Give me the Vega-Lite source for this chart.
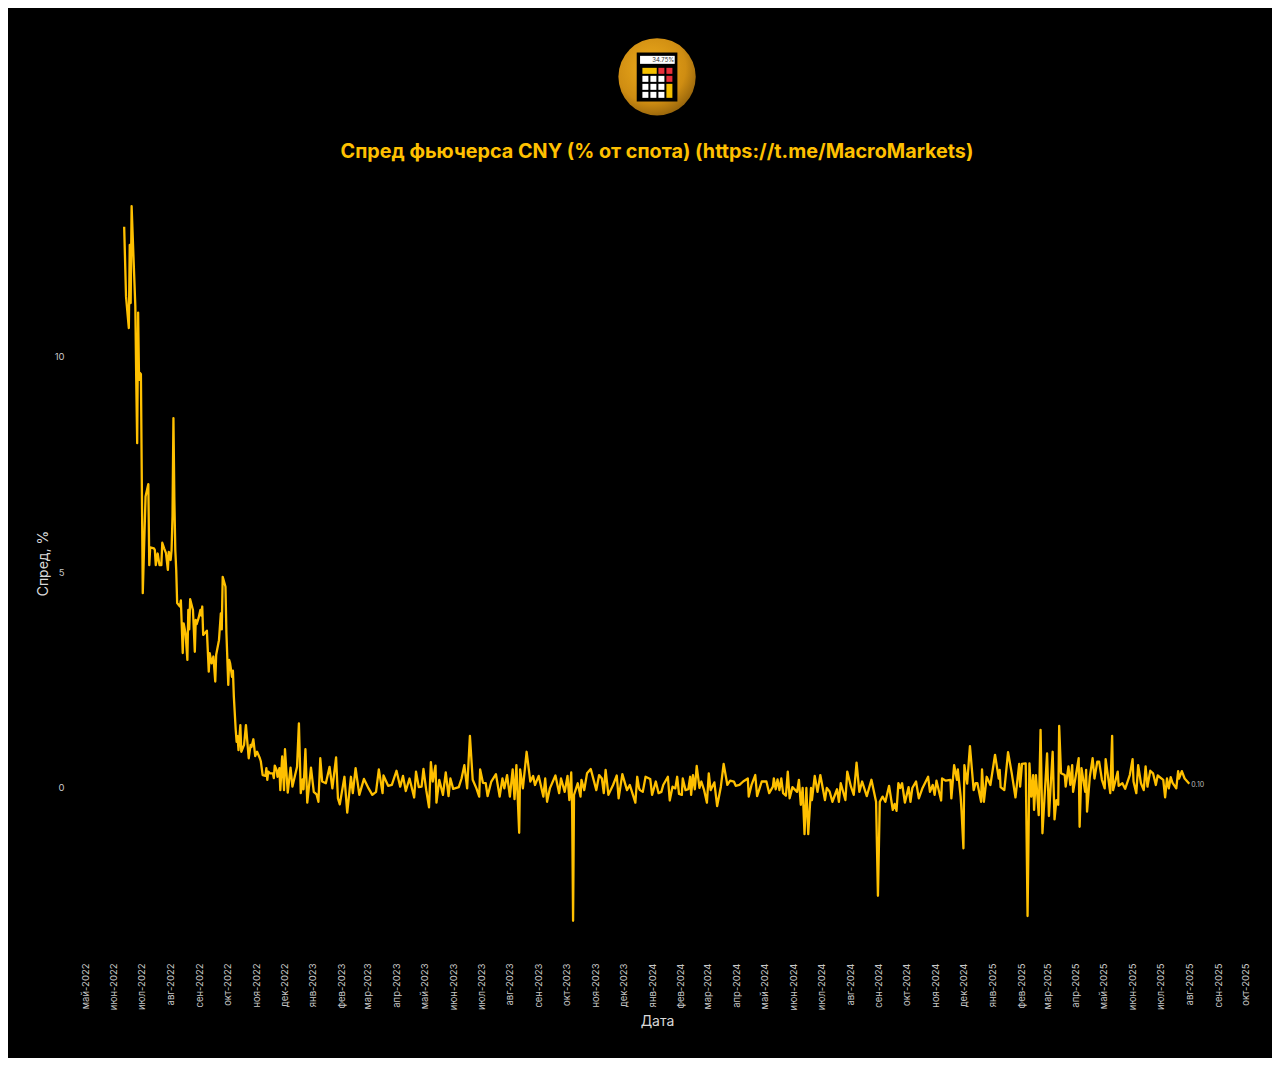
{
"$schema":"https://vega.github.io/schema/vega-lite/v6.json",
"description":"Спред фьючерса CNY",
"width":1264,"height":1050,"padding":8,"autosize":{"type":"none"},
"background":"#ffffff",
"view":{"fill":"#000000","stroke":null},
"title":{"text":"Спред фьючерса CNY (% от спота) (https://t.me/MacroMarkets)","anchor":"middle","frame":"group","offset":-164,"baseline":"middle","dx":17,"font":"Inter","fontSize":19.75,"fontWeight":700,"color":"#FFC000"},
"datasets":{"series":[
{"date":"2022-06-12","spread":13.02},{"date":"2022-06-14","spread":11.4},{"date":"2022-06-17","spread":10.67},{"date":"2022-06-18","spread":12.6},{"date":"2022-06-19","spread":11.25},{"date":"2022-06-20","spread":13.5},{"date":"2022-06-22","spread":12.33},{"date":"2022-06-24","spread":11.17},{"date":"2022-06-25","spread":9.43},{"date":"2022-06-26","spread":8.0},{"date":"2022-06-27","spread":11.03},{"date":"2022-06-28","spread":9.47},{"date":"2022-06-29","spread":9.63},{"date":"2022-06-30","spread":9.6},
{"date":"2022-07-02","spread":4.52},{"date":"2022-07-05","spread":6.76},{"date":"2022-07-08","spread":7.05},{"date":"2022-07-09","spread":5.17},{"date":"2022-07-10","spread":5.58},{"date":"2022-07-14","spread":5.56},{"date":"2022-07-15","spread":5.52},{"date":"2022-07-16","spread":5.17},{"date":"2022-07-18","spread":5.44},{"date":"2022-07-20","spread":5.17},{"date":"2022-07-22","spread":5.17},{"date":"2022-07-23","spread":5.69},{"date":"2022-07-25","spread":5.56},{"date":"2022-07-27","spread":5.45},{"date":"2022-07-29","spread":5.06},{"date":"2022-07-30","spread":5.48},
{"date":"2022-08-01","spread":5.29},{"date":"2022-08-02","spread":5.52},{"date":"2022-08-03","spread":6.3},{"date":"2022-08-04","spread":8.58},{"date":"2022-08-05","spread":6.68},{"date":"2022-08-06","spread":5.52},{"date":"2022-08-07","spread":5.06},{"date":"2022-08-08","spread":4.29},{"date":"2022-08-11","spread":4.21},{"date":"2022-08-12","spread":4.35},{"date":"2022-08-14","spread":3.13},{"date":"2022-08-15","spread":3.82},{"date":"2022-08-17","spread":3.59},{"date":"2022-08-19","spread":2.97},{"date":"2022-08-20","spread":4.13},{"date":"2022-08-21","spread":3.68},{"date":"2022-08-22","spread":4.38},{"date":"2022-08-24","spread":4.21},{"date":"2022-08-25","spread":4.13},{"date":"2022-08-27","spread":3.16},{"date":"2022-08-28","spread":3.9},{"date":"2022-08-29","spread":3.8},{"date":"2022-08-31","spread":3.94},
{"date":"2022-09-02","spread":4.13},{"date":"2022-09-03","spread":4.0},{"date":"2022-09-04","spread":4.21},{"date":"2022-09-05","spread":3.55},{"date":"2022-09-09","spread":3.65},{"date":"2022-09-11","spread":2.7},{"date":"2022-09-12","spread":3.13},{"date":"2022-09-14","spread":2.89},{"date":"2022-09-16","spread":3.05},{"date":"2022-09-18","spread":2.47},{"date":"2022-09-19","spread":3.09},{"date":"2022-09-22","spread":3.43},{"date":"2022-09-24","spread":4.05},{"date":"2022-09-25","spread":3.68},{"date":"2022-09-26","spread":4.9},{"date":"2022-09-29","spread":4.67},{"date":"2022-09-30","spread":3.6},
{"date":"2022-10-02","spread":2.39},{"date":"2022-10-03","spread":2.97},{"date":"2022-10-04","spread":2.89},{"date":"2022-10-06","spread":2.58},{"date":"2022-10-07","spread":2.72},{"date":"2022-10-08","spread":2.12},{"date":"2022-10-10","spread":1.35},{"date":"2022-10-11","spread":1.07},{"date":"2022-10-12","spread":1.2},{"date":"2022-10-13","spread":0.88},{"date":"2022-10-15","spread":1.46},{"date":"2022-10-16","spread":0.84},{"date":"2022-10-19","spread":1.0},{"date":"2022-10-21","spread":1.46},{"date":"2022-10-24","spread":0.69},{"date":"2022-10-26","spread":1.0},{"date":"2022-10-27","spread":0.95},{"date":"2022-10-29","spread":1.13},{"date":"2022-10-31","spread":0.74},
{"date":"2022-11-02","spread":0.84},{"date":"2022-11-05","spread":0.69},{"date":"2022-11-06","spread":0.62},{"date":"2022-11-08","spread":0.3},{"date":"2022-11-11","spread":0.28},{"date":"2022-11-12","spread":0.46},{"date":"2022-11-13","spread":0.19},{"date":"2022-11-14","spread":0.38},{"date":"2022-11-16","spread":0.34},{"date":"2022-11-19","spread":0.34},{"date":"2022-11-20","spread":0.23},{"date":"2022-11-21","spread":0.52},{"date":"2022-11-23","spread":0.42},{"date":"2022-11-24","spread":0.26},{"date":"2022-11-26","spread":0.46},{"date":"2022-11-27","spread":-0.05},{"date":"2022-11-29","spread":0.73},
{"date":"2022-12-01","spread":-0.05},{"date":"2022-12-02","spread":0.9},{"date":"2022-12-05","spread":-0.11},{"date":"2022-12-08","spread":0.47},{"date":"2022-12-10","spread":0.03},{"date":"2022-12-15","spread":0.49},{"date":"2022-12-17","spread":1.5},{"date":"2022-12-19","spread":-0.12},{"date":"2022-12-21","spread":0.2},{"date":"2022-12-22","spread":-0.03},{"date":"2022-12-24","spread":0.9},{"date":"2022-12-26","spread":-0.34},{"date":"2022-12-30","spread":0.47},
{"date":"2023-01-02","spread":-0.09},{"date":"2023-01-05","spread":-0.15},{"date":"2023-01-07","spread":-0.32},{"date":"2023-01-09","spread":0.69},{"date":"2023-01-11","spread":0.15},{"date":"2023-01-15","spread":0.11},{"date":"2023-01-19","spread":0.49},{"date":"2023-01-22","spread":-0.01},{"date":"2023-01-26","spread":0.71},{"date":"2023-01-28","spread":-0.24},{"date":"2023-01-30","spread":-0.38},
{"date":"2023-02-04","spread":0.26},{"date":"2023-02-07","spread":-0.57},{"date":"2023-02-11","spread":0.26},{"date":"2023-02-13","spread":-0.12},{"date":"2023-02-16","spread":0.46},{"date":"2023-02-20","spread":-0.16},{"date":"2023-02-25","spread":0.21},
{"date":"2023-03-02","spread":-0.01},{"date":"2023-03-06","spread":-0.16},{"date":"2023-03-10","spread":-0.09},{"date":"2023-03-13","spread":0.43},{"date":"2023-03-17","spread":-0.12},{"date":"2023-03-18","spread":0.29},{"date":"2023-03-23","spread":0.05},{"date":"2023-03-27","spread":0.07},
{"date":"2023-04-01","spread":0.4},{"date":"2023-04-05","spread":0.03},{"date":"2023-04-08","spread":0.28},{"date":"2023-04-11","spread":-0.07},{"date":"2023-04-15","spread":0.22},{"date":"2023-04-20","spread":-0.22},{"date":"2023-04-22","spread":0.38},{"date":"2023-04-25","spread":0.02},{"date":"2023-04-28","spread":0.03},{"date":"2023-04-30","spread":0.44},
{"date":"2023-05-03","spread":-0.05},{"date":"2023-05-06","spread":-0.45},{"date":"2023-05-08","spread":0.6},{"date":"2023-05-10","spread":0.15},{"date":"2023-05-13","spread":0.52},{"date":"2023-05-14","spread":-0.34},{"date":"2023-05-17","spread":0.19},{"date":"2023-05-21","spread":-0.16},{"date":"2023-05-24","spread":0.36},{"date":"2023-05-27","spread":-0.19},{"date":"2023-05-29","spread":0.22},
{"date":"2023-06-01","spread":-0.02},{"date":"2023-06-07","spread":0.02},{"date":"2023-06-10","spread":0.22},{"date":"2023-06-13","spread":0.53},{"date":"2023-06-16","spread":-0.01},{"date":"2023-06-19","spread":1.21},{"date":"2023-06-22","spread":0.19},{"date":"2023-06-26","spread":-0.01},{"date":"2023-06-29","spread":-0.2},{"date":"2023-06-30","spread":0.43},
{"date":"2023-07-03","spread":0.12},{"date":"2023-07-06","spread":0.11},{"date":"2023-07-08","spread":-0.19},{"date":"2023-07-12","spread":0.15},{"date":"2023-07-17","spread":0.32},{"date":"2023-07-21","spread":-0.2},{"date":"2023-07-24","spread":0.22},{"date":"2023-07-26","spread":-0.01},{"date":"2023-07-29","spread":0.3},
{"date":"2023-08-01","spread":-0.2},{"date":"2023-08-04","spread":0.43},{"date":"2023-08-06","spread":-0.26},{"date":"2023-08-08","spread":0.53},{"date":"2023-08-11","spread":-1.04},{"date":"2023-08-12","spread":0.43},{"date":"2023-08-15","spread":-0.01},{"date":"2023-08-19","spread":0.84},{"date":"2023-08-23","spread":0.15},{"date":"2023-08-26","spread":0.28},{"date":"2023-08-28","spread":0.07},
{"date":"2023-09-01","spread":0.28},{"date":"2023-09-06","spread":-0.2},{"date":"2023-09-08","spread":0.22},{"date":"2023-09-10","spread":-0.32},{"date":"2023-09-13","spread":-0.01},{"date":"2023-09-19","spread":0.29},{"date":"2023-09-23","spread":-0.12},{"date":"2023-09-25","spread":0.22},{"date":"2023-09-29","spread":-0.09},
{"date":"2023-10-02","spread":0.28},{"date":"2023-10-04","spread":-0.28},{"date":"2023-10-06","spread":0.36},{"date":"2023-10-07","spread":-0.5},{"date":"2023-10-08","spread":-3.08},{"date":"2023-10-09","spread":-0.16},{"date":"2023-10-13","spread":0.11},{"date":"2023-10-16","spread":-0.2},{"date":"2023-10-17","spread":0.19},{"date":"2023-10-20","spread":-0.05},{"date":"2023-10-23","spread":0.34},{"date":"2023-10-27","spread":0.44},
{"date":"2023-11-02","spread":-0.05},{"date":"2023-11-05","spread":0.3},{"date":"2023-11-08","spread":0.22},{"date":"2023-11-10","spread":-0.12},{"date":"2023-11-12","spread":0.42},{"date":"2023-11-15","spread":-0.16},{"date":"2023-11-20","spread":0.07},{"date":"2023-11-24","spread":0.29},{"date":"2023-11-26","spread":-0.24},{"date":"2023-11-30","spread":0.32},
{"date":"2023-12-05","spread":-0.05},{"date":"2023-12-08","spread":0.07},{"date":"2023-12-14","spread":-0.34},{"date":"2023-12-16","spread":0.26},{"date":"2023-12-18","spread":-0.01},{"date":"2023-12-19","spread":-0.05},{"date":"2023-12-22","spread":-0.09},{"date":"2023-12-25","spread":0.26},{"date":"2023-12-30","spread":0.21},
{"date":"2024-01-01","spread":-0.16},{"date":"2024-01-05","spread":0.15},{"date":"2024-01-08","spread":-0.12},{"date":"2024-01-11","spread":-0.09},{"date":"2024-01-13","spread":0.07},{"date":"2024-01-18","spread":0.26},{"date":"2024-01-20","spread":-0.29},{"date":"2024-01-23","spread":0.03},{"date":"2024-01-26","spread":-0.01},{"date":"2024-01-28","spread":0.26},{"date":"2024-01-30","spread":-0.14},
{"date":"2024-02-02","spread":-0.16},{"date":"2024-02-03","spread":0.22},{"date":"2024-02-06","spread":-0.05},{"date":"2024-02-09","spread":-0.03},{"date":"2024-02-11","spread":0.26},{"date":"2024-02-12","spread":-0.16},{"date":"2024-02-14","spread":0.3},{"date":"2024-02-16","spread":-0.03},{"date":"2024-02-18","spread":0.51},{"date":"2024-02-21","spread":0.0},{"date":"2024-02-23","spread":0.15},{"date":"2024-02-26","spread":-0.05},{"date":"2024-02-29","spread":-0.34},
{"date":"2024-03-02","spread":0.34},{"date":"2024-03-04","spread":-0.05},{"date":"2024-03-08","spread":0.13},{"date":"2024-03-11","spread":-0.42},{"date":"2024-03-15","spread":0.03},{"date":"2024-03-18","spread":0.56},{"date":"2024-03-22","spread":0.07},{"date":"2024-03-25","spread":0.17},{"date":"2024-03-29","spread":0.15},{"date":"2024-03-31","spread":0.05},
{"date":"2024-04-04","spread":0.07},{"date":"2024-04-08","spread":0.15},{"date":"2024-04-13","spread":0.22},{"date":"2024-04-14","spread":-0.2},{"date":"2024-04-17","spread":0.07},{"date":"2024-04-21","spread":0.3},{"date":"2024-04-23","spread":-0.19},{"date":"2024-04-28","spread":0.15},
{"date":"2024-05-03","spread":0.15},{"date":"2024-05-06","spread":-0.12},{"date":"2024-05-10","spread":0.03},{"date":"2024-05-11","spread":0.22},{"date":"2024-05-13","spread":-0.03},{"date":"2024-05-15","spread":0.2},{"date":"2024-05-17","spread":-0.05},{"date":"2024-05-19","spread":0.22},{"date":"2024-05-21","spread":-0.12},{"date":"2024-05-24","spread":-0.18},{"date":"2024-05-26","spread":0.38},{"date":"2024-05-28","spread":-0.24},{"date":"2024-05-31","spread":0.02},
{"date":"2024-06-05","spread":-0.09},{"date":"2024-06-07","spread":0.19},{"date":"2024-06-09","spread":-0.39},{"date":"2024-06-11","spread":0.0},{"date":"2024-06-13","spread":-1.07},{"date":"2024-06-15","spread":0.0},{"date":"2024-06-17","spread":-1.07},{"date":"2024-06-20","spread":0.0},{"date":"2024-06-21","spread":-0.28},{"date":"2024-06-24","spread":0.28},{"date":"2024-06-27","spread":-0.09},{"date":"2024-06-30","spread":0.3},
{"date":"2024-07-05","spread":-0.28},{"date":"2024-07-07","spread":0.0},{"date":"2024-07-10","spread":-0.08},{"date":"2024-07-13","spread":-0.32},{"date":"2024-07-18","spread":-0.03},{"date":"2024-07-20","spread":-0.32},{"date":"2024-07-22","spread":0.11},{"date":"2024-07-27","spread":-0.28},{"date":"2024-07-29","spread":0.38},
{"date":"2024-08-02","spread":0.03},{"date":"2024-08-05","spread":-0.16},{"date":"2024-08-08","spread":0.59},{"date":"2024-08-11","spread":-0.09},{"date":"2024-08-14","spread":0.15},{"date":"2024-08-19","spread":-0.19},{"date":"2024-08-24","spread":0.19},{"date":"2024-08-29","spread":-0.32},{"date":"2024-08-31","spread":-2.5},
{"date":"2024-09-02","spread":-0.32},{"date":"2024-09-05","spread":-0.2},{"date":"2024-09-08","spread":-0.32},{"date":"2024-09-12","spread":0.05},{"date":"2024-09-16","spread":-0.51},{"date":"2024-09-18","spread":-0.37},{"date":"2024-09-20","spread":-0.53},{"date":"2024-09-22","spread":0.11},{"date":"2024-09-24","spread":0.0},{"date":"2024-09-26","spread":0.11},{"date":"2024-09-29","spread":-0.34},
{"date":"2024-10-03","spread":0.02},{"date":"2024-10-05","spread":-0.32},{"date":"2024-10-07","spread":0.0},{"date":"2024-10-11","spread":0.15},{"date":"2024-10-14","spread":-0.24},{"date":"2024-10-18","spread":0.0},{"date":"2024-10-24","spread":0.26},{"date":"2024-10-26","spread":-0.09},{"date":"2024-10-29","spread":0.07},{"date":"2024-10-31","spread":-0.16},
{"date":"2024-11-02","spread":0.17},{"date":"2024-11-07","spread":-0.29},{"date":"2024-11-08","spread":0.22},{"date":"2024-11-12","spread":0.17},{"date":"2024-11-17","spread":0.19},{"date":"2024-11-18","spread":-0.24},{"date":"2024-11-21","spread":0.53},{"date":"2024-11-24","spread":0.19},{"date":"2024-11-25","spread":0.43},{"date":"2024-11-28","spread":-0.2},{"date":"2024-11-29","spread":-0.55},
{"date":"2024-12-01","spread":-1.4},{"date":"2024-12-02","spread":0.53},{"date":"2024-12-05","spread":0.1},{"date":"2024-12-08","spread":0.97},{"date":"2024-12-12","spread":-0.05},{"date":"2024-12-14","spread":0.11},{"date":"2024-12-16","spread":0.11},{"date":"2024-12-20","spread":-0.32},{"date":"2024-12-21","spread":0.43},{"date":"2024-12-23","spread":-0.32},{"date":"2024-12-26","spread":0.26},{"date":"2024-12-30","spread":0.07},
{"date":"2025-01-04","spread":0.77},{"date":"2025-01-08","spread":0.22},{"date":"2025-01-09","spread":0.42},{"date":"2025-01-10","spread":0.02},{"date":"2025-01-14","spread":-0.05},{"date":"2025-01-18","spread":0.83},{"date":"2025-01-22","spread":0.34},{"date":"2025-01-26","spread":-0.22},{"date":"2025-01-30","spread":0.56},{"date":"2025-01-31","spread":0.03},
{"date":"2025-02-02","spread":0.56},{"date":"2025-02-06","spread":0.57},{"date":"2025-02-08","spread":-2.97},{"date":"2025-02-10","spread":0.57},{"date":"2025-02-12","spread":-0.2},{"date":"2025-02-14","spread":0.3},{"date":"2025-02-15","spread":-0.51},{"date":"2025-02-17","spread":0.3},{"date":"2025-02-20","spread":-0.63},{"date":"2025-02-22","spread":1.35},{"date":"2025-02-24","spread":-1.05},
{"date":"2025-03-01","spread":0.8},{"date":"2025-03-03","spread":-0.65},{"date":"2025-03-07","spread":0.84},{"date":"2025-03-09","spread":-0.73},{"date":"2025-03-11","spread":-0.28},{"date":"2025-03-13","spread":-0.39},{"date":"2025-03-14","spread":1.44},{"date":"2025-03-16","spread":0.34},{"date":"2025-03-20","spread":0.3},{"date":"2025-03-21","spread":0.03},{"date":"2025-03-24","spread":0.5},{"date":"2025-03-26","spread":0.07},{"date":"2025-03-28","spread":0.53},{"date":"2025-03-29","spread":-0.09},
{"date":"2025-04-04","spread":0.69},{"date":"2025-04-05","spread":-0.9},{"date":"2025-04-07","spread":0.46},{"date":"2025-04-11","spread":-0.09},{"date":"2025-04-12","spread":0.42},{"date":"2025-04-13","spread":-0.55},{"date":"2025-04-16","spread":0.26},{"date":"2025-04-19","spread":0.69},{"date":"2025-04-21","spread":0.22},{"date":"2025-04-24","spread":0.61},{"date":"2025-04-26","spread":0.61},{"date":"2025-04-29","spread":0.19},
{"date":"2025-05-02","spread":-0.01},{"date":"2025-05-03","spread":0.67},{"date":"2025-05-08","spread":-0.12},{"date":"2025-05-10","spread":1.21},{"date":"2025-05-11","spread":-0.05},{"date":"2025-05-16","spread":0.38},{"date":"2025-05-17","spread":0.05},{"date":"2025-05-21","spread":0.11},{"date":"2025-05-24","spread":-0.02},{"date":"2025-05-29","spread":0.3},
{"date":"2025-06-01","spread":0.67},{"date":"2025-06-02","spread":0.15},{"date":"2025-06-05","spread":-0.12},{"date":"2025-06-07","spread":0.53},{"date":"2025-06-10","spread":0.11},{"date":"2025-06-13","spread":-0.05},{"date":"2025-06-15","spread":0.5},{"date":"2025-06-17","spread":0.03},{"date":"2025-06-20","spread":0.4},{"date":"2025-06-23","spread":0.34},{"date":"2025-06-26","spread":0.07},{"date":"2025-06-28","spread":0.29},
{"date":"2025-07-04","spread":0.19},{"date":"2025-07-06","spread":-0.22},{"date":"2025-07-08","spread":0.22},{"date":"2025-07-10","spread":-0.01},{"date":"2025-07-12","spread":0.25},{"date":"2025-07-14","spread":0.12},{"date":"2025-07-18","spread":-0.01},{"date":"2025-07-20","spread":0.39},{"date":"2025-07-21","spread":0.22},{"date":"2025-07-24","spread":0.39},{"date":"2025-07-27","spread":0.22},{"date":"2025-08-01","spread":0.1}
]},
"data":{"name":"series"},
"encoding":{
"x":{"field":"date","type":"temporal","scale":{"type":"utc","domain":["2022-02-07","2025-10-29"],"nice":false},
"axis":{"title":"Дата","orient":"bottom","offset":-100,"grid":false,"domain":false,"ticks":false,"tickCount":{"interval":"month","step":1},"labelAngle":270,"labelPadding":5,"labelOverlap":false,"labelBound":false,"labelFlush":false,"labelFont":"Inter","labelFontSize":9.5,"labelColor":"#c8c8c8","labelExpr":"datum.value < utc(2022,4,1) ? '' : ['янв','фев','мар','апр','май','июн','июл','авг','сен','окт','ноя','дек'][utcmonth(datum.value)] + '-' + utcyear(datum.value)","titleFont":"Inter","titleFontSize":14,"titleFontWeight":400,"titleColor":"#d9d9d9","titleX":649,"titleY":63,"titleBaseline":"middle","titleAlign":"center"}},
"y":{"field":"spread","type":"quantitative","scale":{"domain":[-6.265,18.097],"nice":false,"zero":false},
"axis":{"title":"Спред, %","orient":"left","offset":-58,"grid":false,"domain":false,"ticks":false,"values":[0,5,10],"labelPadding":2,"labelFont":"Inter","labelFontSize":9.5,"labelColor":"#c8c8c8","titleFont":"Inter","titleFontSize":14,"titleFontWeight":400,"titleColor":"#d9d9d9","titleX":-23,"titleY":555,"titleBaseline":"middle","titleAlign":"center","titleAngle":270}}
},
"layer":[
{"mark":{"type":"line","color":"#FFC000","strokeWidth":2.3,"strokeJoin":"round"}},
{"data":{"values":[{"date":"2025-08-01","spread":0.1}]},"mark":{"type":"text","align":"left","dx":2,"dy":1,"font":"Inter","fontSize":7,"color":"#b8b8b8"},"encoding":{"text":{"field":"spread","type":"quantitative","format":".2f"}}},
{"data":{"values":[{"date":"2024-01-09T14:00:00Z","spread":16.43}]},"mark":{"type":"image","width":160,"height":120,"align":"center","baseline":"middle"},"encoding":{"url":{"value":"data:image/svg+xml,%3Csvg xmlns='http://www.w3.org/2000/svg' width='160' height='120' viewBox='0 0 480 360'%3E%3Cdefs%3E%3CradialGradient id='g' cx='.42' cy='.38' r='.75'%3E%3Cstop offset='0' stop-color='%23eeac1c'/%3E%3Cstop offset='.6' stop-color='%23cf8d12'/%3E%3Cstop offset='1' stop-color='%237a5008'/%3E%3C/radialGradient%3E%3C/defs%3E%3Ccircle cx='231' cy='171' r='116' fill='url(%23g)'/%3E%3Crect x='170' y='98' width='122' height='147' fill='%23000'/%3E%3Crect x='180' y='108' width='104' height='24' fill='%23fff'/%3E%3Crect x='187' y='144' width='43' height='18' fill='%23f5c000'/%3E%3Crect x='235' y='144' width='18' height='18' fill='%23e8303a'/%3E%3Crect x='259' y='144' width='18' height='18' fill='%23e8303a'/%3E%3Crect x='259' y='168' width='18' height='18' fill='%23e8303a'/%3E%3Crect x='259' y='192' width='18' height='42' fill='%23f5c000'/%3E%3Cg fill='%23fff'%3E%3Crect x='187' y='168' width='18' height='18'/%3E%3Crect x='211' y='168' width='18' height='18'/%3E%3Crect x='235' y='168' width='18' height='18'/%3E%3Crect x='187' y='192' width='18' height='18'/%3E%3Crect x='211' y='192' width='18' height='18'/%3E%3Crect x='235' y='192' width='18' height='18'/%3E%3Crect x='187' y='216' width='18' height='18'/%3E%3Crect x='211' y='216' width='18' height='18'/%3E%3Crect x='235' y='216' width='18' height='18'/%3E%3C/g%3E%3C/svg%3E"}}},
{"data":{"values":[{"date":"2024-01-13","spread":16.89,"logoText":"34.75%"}]},"mark":{"type":"text","font":"Inter","fontSize":6,"color":"#333333","align":"center","baseline":"middle"},"encoding":{"text":{"field":"logoText","type":"nominal"}}}
]
}
